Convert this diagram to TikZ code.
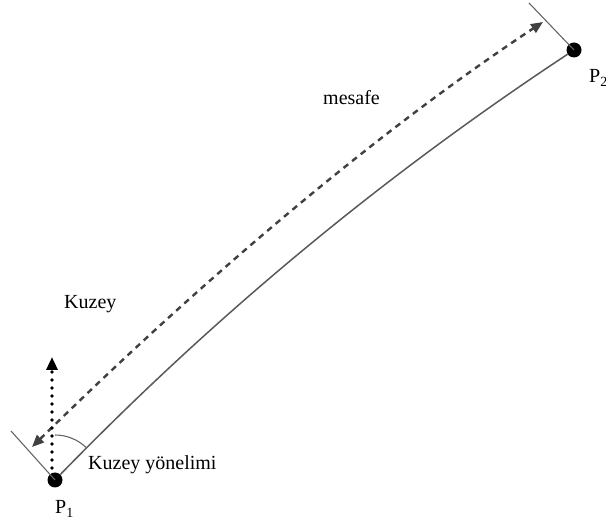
\documentclass[tikz,border=0pt]{standalone}
\usepackage{fontspec}
\setmainfont{Liberation Serif}
\usetikzlibrary{arrows.meta}
\begin{document}
\begin{tikzpicture}[x=1pt,y=1pt,
  lbl/.style={font=\fontsize{20}{24}\selectfont, inner sep=0pt, anchor=base west},
  dot/.style={circle, fill=black, minimum size=15pt, inner sep=0pt},
  route/.style={draw=black!65, line width=1.5pt},
  tickline/.style={draw=black!60, line width=1.1pt},
  dist/.style={draw=black!75, line width=2.4pt, dash pattern=on 6pt off 5pt,
    {Triangle[length=12pt,width=10pt]}-{Triangle[length=12pt,width=10pt]}},
  northline/.style={draw=black, line width=3.6pt, line cap=round, dash pattern=on 0pt off 8pt,
    -{Triangle[length=13pt,width=11pt,line cap=butt]}}
]
\useasboundingbox (0,0) rectangle (606,-529);
% points
\node[dot] (P1) at (55,-480) {};
\node[dot] (P2) at (574,-50) {};
\coordinate (t1) at (11,-431);
\coordinate (t2) at (529,-3);
\coordinate (d1) at (32,-447);
\coordinate (d2) at (543,-22);
\coordinate (n0) at (52,-468);
\coordinate (n1) at (52,-357);
% ticks
\draw[tickline] (t1) -- (P1.center);
\draw[tickline] (t2) -- (P2.center);
% route
\draw[route] (P1) .. controls (230,-300) and (400,-165) .. (P2);
% distance
\draw[dist] (d1) .. controls (200,-282) and (375,-133) .. (d2);
% north
\draw[northline] (n0) -- (n1);
% bearing arc
\draw[tickline] ([shift={(90:45)}]P1.center) arc[start angle=90,end angle=45,radius=45];
% labels
\node[lbl] (lk) at (64,-309) {Kuzey};
\node[lbl] (lm) at (323,-105) {mesafe};
\node[lbl] (lky) at (88,-470) {Kuzey yönelimi};
\node[lbl] (lp1) at (55,-514) {P\textsubscript{1}};
\node[lbl] (lp2) at (589,-83) {P\textsubscript{2}};
\end{tikzpicture}
\end{document}
